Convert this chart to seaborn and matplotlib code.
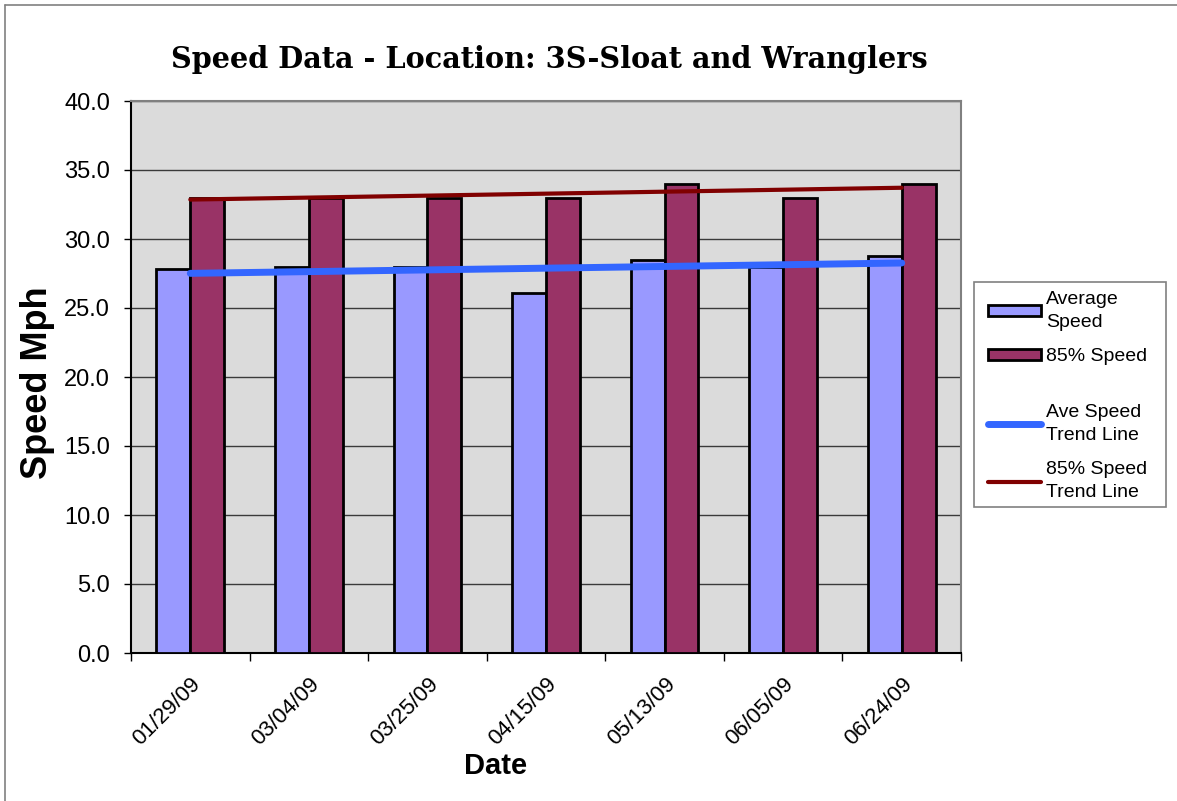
import numpy as np
import pandas as pd
import matplotlib
matplotlib.use("Agg")
import matplotlib.pyplot as plt
import seaborn as sns
from matplotlib.patches import Patch, Rectangle
from matplotlib.lines import Line2D

# ---- data ----
dates = ["01/29/09", "03/04/09", "03/25/09", "04/15/09", "05/13/09", "06/05/09", "06/24/09"]
avg_speed = [27.8, 28.0, 28.0, 26.1, 28.5, 28.0, 28.8]
p85_speed = [33.0, 33.0, 33.0, 33.0, 34.0, 33.0, 34.0]
series_names = ["Average Speed", "85% Speed"]
bar_legend_labels = ["Average\nSpeed", "85% Speed"]
line_legend_labels = ["Ave Speed\nTrend Line", "85% Speed\nTrend Line"]
yticks = [0, 5, 10, 15, 20, 25, 30, 35, 40]

df = pd.DataFrame({
    "Date": dates * 2,
    "Speed": avg_speed + p85_speed,
    "Series": [series_names[0]] * len(dates) + [series_names[1]] * len(dates),
})

sns.set_theme(style="white")
plt.rcParams["font.family"] = ["Liberation Sans", "DejaVu Sans"]
for k in ["text.color", "axes.labelcolor", "xtick.color", "ytick.color"]:
    plt.rcParams[k] = "black"

W, H = 1177, 801
fig = plt.figure(figsize=(W / 100, H / 100), dpi=100)
ax = fig.add_axes([131 / W, 1 - 653 / H, (961 - 131) / W, (653 - 101) / H])
ax.set_facecolor("#dbdbdb")

bar_colors = ["#9999ff", "#993366"]
sns.barplot(data=df, x="Date", y="Speed", hue="Series", order=dates,
            hue_order=series_names, palette=bar_colors, width=0.57,
            edgecolor="black", linewidth=2, saturation=1, ax=ax, legend=False,
            zorder=3)

xpos = np.arange(len(dates))
blue, dred = "#3366ff", "#800000"
sns.regplot(x=xpos, y=np.array(avg_speed), scatter=False, ci=None, truncate=True,
            ax=ax, line_kws=dict(color=blue, lw=5, solid_capstyle="round", zorder=5))
sns.regplot(x=xpos, y=np.array(p85_speed), scatter=False, ci=None, truncate=True,
            ax=ax, line_kws=dict(color=dred, lw=3, solid_capstyle="round", zorder=5))

ax.set_xlim(-0.5, len(dates) - 0.5)
ax.set_ylim(0, 40)
ax.set_yticks(yticks)
ax.set_yticklabels([f"{v:.1f}" for v in yticks], fontsize=17)
ax.yaxis.grid(True, color="#3a3a3a", lw=1)
ax.set_axisbelow(True)
ax.set_xlabel("")
ax.set_ylabel("")

ax.set_xticks(xpos)
ax.set_xticklabels(dates, rotation=45, ha="right", va="top",
                   rotation_mode="anchor", fontsize=16)
ax.set_xticks(np.arange(-0.5, len(dates)), minor=True)
ax.tick_params(axis="x", which="major", length=0, pad=15)
ax.tick_params(axis="x", which="minor", length=6, width=1, color="black", direction="out", bottom=True)
ax.tick_params(axis="y", length=5, width=1, color="black", direction="out", left=True, pad=10)

for s in ["top", "right"]:
    ax.spines[s].set_color("#808080")
    ax.spines[s].set_linewidth(1.5)
for s in ["left", "bottom"]:
    ax.spines[s].set_color("black")
    ax.spines[s].set_linewidth(1.5)

fig.text(549 / W, 1 - 60 / H, "Speed Data - Location: 3S-Sloat and Wranglers",
         ha="center", va="center", fontsize=20.7, fontweight="bold", family="DejaVu Serif")
fig.text(496 / W, 1 - 766 / H, "Date", ha="center", va="center", fontsize=21, fontweight="bold")
fig.text(38 / W, 1 - 383 / H, "Speed Mph", ha="center", va="center", rotation=90,
         fontsize=26, fontweight="bold")

# legend frame
fig.add_artist(Rectangle((974 / W, 1 - 507 / H), (1166 - 974) / W, (507 - 282) / H,
                         transform=fig.transFigure, facecolor="white",
                         edgecolor="#808080", lw=1.2, zorder=1))

bar_handles = [
    Patch(facecolor=bar_colors[0], edgecolor="black", linewidth=2),
    Patch(facecolor=bar_colors[1], edgecolor="black", linewidth=2),
]
line_handles = [
    Line2D([0], [0], color=blue, lw=5, solid_capstyle="round"),
    Line2D([0], [0], color=dred, lw=3, solid_capstyle="round"),
]
common = dict(loc="upper left", fontsize=14, frameon=False, handlelength=2.7,
              handleheight=0.45, labelspacing=0.9, borderpad=0, borderaxespad=0,
              handletextpad=0.3)
leg1 = fig.legend(bar_handles, bar_legend_labels, bbox_to_anchor=(988 / W, 1 - 291 / H), **common)
leg2 = fig.legend(line_handles, line_legend_labels, bbox_to_anchor=(988 / W, 1 - 404 / H), **common)
for lg in (leg1, leg2):
    lg.set_zorder(2)
    for t in lg.get_texts():
        t.set_linespacing(1.45)

# outer chart border
fig.add_artist(Line2D([5 / W, 5 / W], [0, 1 - 5 / H], color="#808080", lw=1.2, transform=fig.transFigure))
fig.add_artist(Line2D([5 / W, 1], [1 - 5 / H, 1 - 5 / H], color="#808080", lw=1.2, transform=fig.transFigure))

fig.savefig("out.png", dpi=100, facecolor="white")
